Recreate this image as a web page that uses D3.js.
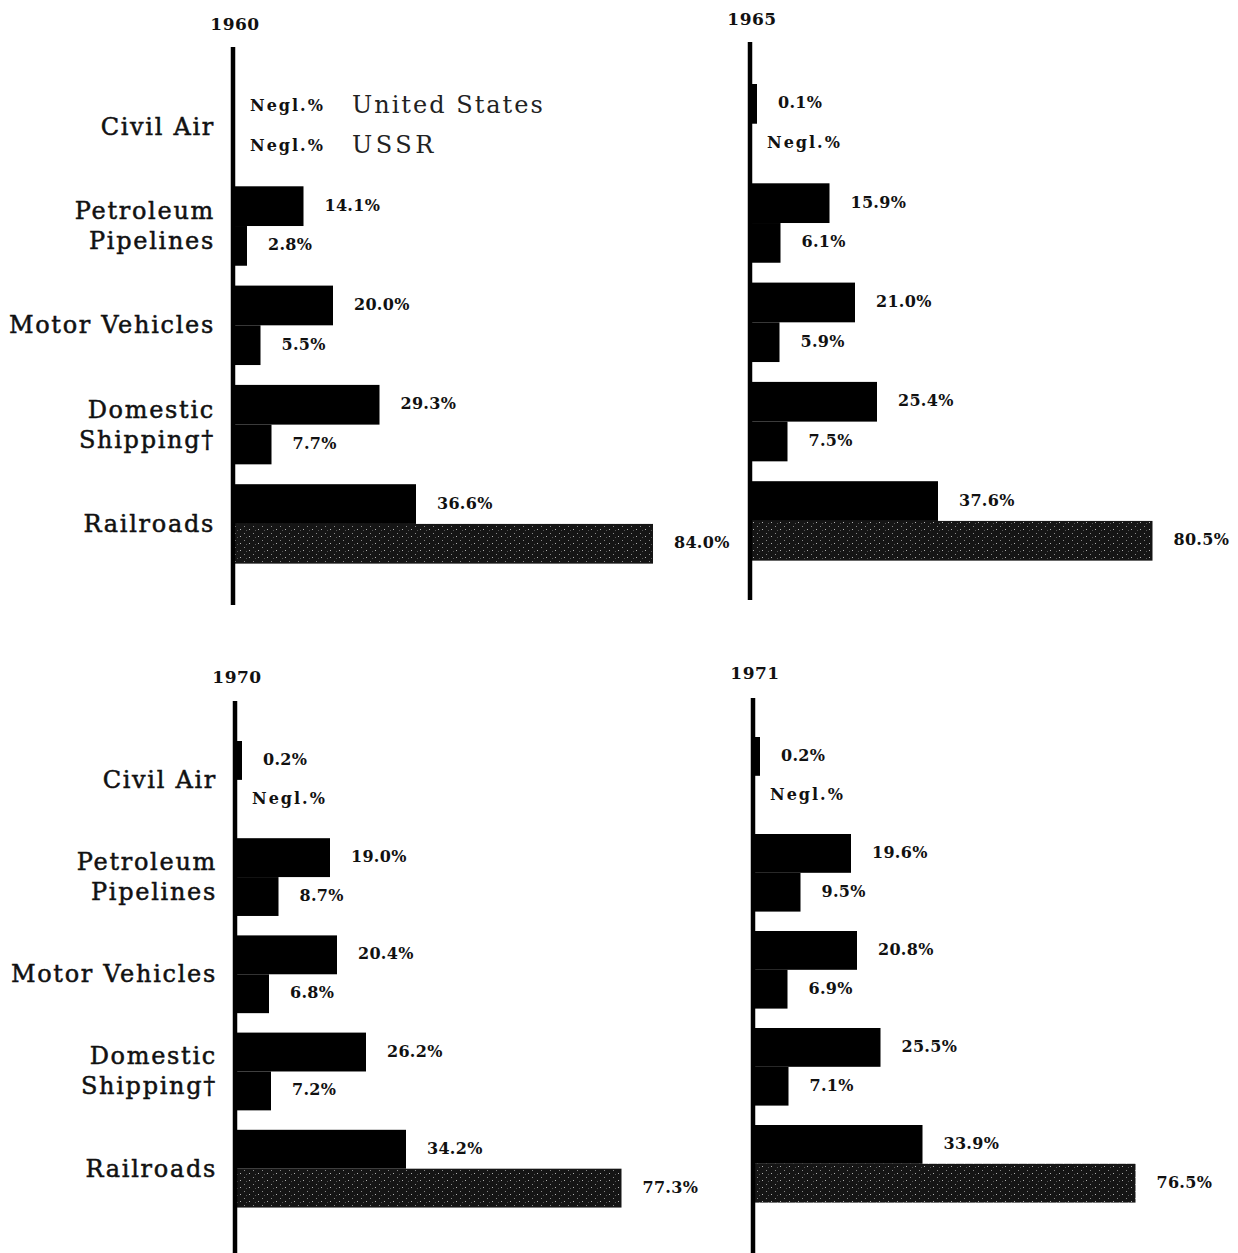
<!DOCTYPE html>
<html>
<head>
<meta charset="utf-8">
<script src="https://cdn.jsdelivr.net/npm/d3@7"></script>
<style>
  html, body { margin: 0; padding: 0; background: #fff; }
  svg { display: block; }
</style>
</head>
<body>
<svg id="chart" width="1238" height="1253"></svg>
<script>
// freight turnover shares, per cent (null = "Negl.")
const years = ["1960", "1965", "1970", "1971"];
const categories = ["Civil Air", "Petroleum\nPipelines", "Motor Vehicles", "Domestic\nShipping†", "Railroads"];
const series = ["United States", "USSR"];

const us1960 = [null, 14.1, 20.0, 29.3, 36.6];
const ussr1960 = [null, 2.8, 5.5, 7.7, 84.0];
const us1965 = [0.1, 15.9, 21.0, 25.4, 37.6];
const ussr1965 = [null, 6.1, 5.9, 7.5, 80.5];
const us1970 = [0.2, 19.0, 20.4, 26.2, 34.2];
const ussr1970 = [null, 8.7, 6.8, 7.2, 77.3];
const us1971 = [0.2, 19.6, 20.8, 25.5, 33.9];
const ussr1971 = [null, 9.5, 6.9, 7.1, 76.5];

const usByYear = [us1960, us1965, us1970, us1971];
const ussrByYear = [ussr1960, ussr1965, ussr1970, ussr1971];

// where each small chart sits on the page
const panels = [
  { ax: 233, top: 47, bottom: 605, y0: 87, step: 99.3, yearY: 30, labels: true, legend: true },
  { ax: 750, top: 42, bottom: 600, y0: 84, step: 99.3, yearY: 25, labels: false, legend: false },
  { ax: 235, top: 701, bottom: 1253, y0: 741, step: 97.2, yearY: 683, labels: true, legend: false },
  { ax: 753, top: 698, bottom: 1253, y0: 737, step: 97, yearY: 679, labels: false, legend: false },
];

const FONT = "'DejaVu Serif', serif";
const svg = d3.select("#chart");

const defs = svg.append("defs");
const pat = defs.append("pattern")
  .attr("id", "speckle")
  .attr("patternUnits", "userSpaceOnUse")
  .attr("width", 9)
  .attr("height", 7);
pat.append("rect").attr("width", 9).attr("height", 7).attr("fill", "#151515");
pat.append("rect").attr("x", 1).attr("y", 1).attr("width", 1).attr("height", 1).attr("fill", "#8a8a8a");
pat.append("rect").attr("x", 6).attr("y", 4).attr("width", 1).attr("height", 1).attr("fill", "#b0b0b0");
pat.append("rect").attr("x", 3).attr("y", 5).attr("width", 1).attr("height", 1).attr("fill", "#555");

const x = d3.scaleLinear().domain([0, 100]).range([0, 500]);
const MIN_W = 7; // tiny shares are printed a little wider than their value

panels.forEach((p, i) => {
  const g = svg.append("g");

  const y = d3.scaleBand()
    .domain(categories)
    .range([p.y0, p.y0 + p.step * 4.8])
    .paddingInner(0.2)
    .paddingOuter(0);

  const sub = d3.scaleBand()
    .domain(series)
    .range([0, y.bandwidth()]);

  const rows = [];
  categories.forEach((c, k) => {
    rows.push({ cat: c, s: series[0], v: usByYear[i][k] });
    rows.push({ cat: c, s: series[1], v: ussrByYear[i][k] });
  });

  const barW = (v) => (v == null ? 0 : Math.max(x(v), MIN_W));

  g.selectAll("rect.bar")
    .data(rows.filter((d) => d.v != null))
    .join("rect")
    .attr("class", "bar")
    .attr("x", p.ax - 2)
    .attr("y", (d) => y(d.cat) + sub(d.s))
    .attr("width", (d) => barW(d.v) + 2)
    .attr("height", sub.bandwidth())
    .attr("fill", (d) => (d.s === "USSR" && d.cat === "Railroads" ? "url(#speckle)" : "#000"));

  g.selectAll("text.val")
    .data(rows)
    .join("text")
    .attr("class", "val")
    .attr("x", (d) => p.ax + barW(d.v) + (d.v == null ? 17 : 21))
    .attr("y", (d) => y(d.cat) + sub(d.s) + sub.bandwidth() / 2 - 1)
    .attr("dominant-baseline", "central")
    .attr("font-family", FONT)
    .attr("font-weight", "bold")
    .attr("font-size", 16)
    .attr("letter-spacing", (d) => (d.v == null ? 2 : 0.3))
    .attr("fill", "#111")
    .text((d) => (d.v == null ? "Negl.%" : d.v.toFixed(1) + "%"));

  // axis line
  g.append("line")
    .attr("x1", p.ax).attr("x2", p.ax)
    .attr("y1", p.top).attr("y2", p.bottom)
    .attr("stroke", "#000")
    .attr("stroke-width", 4.5);

  g.append("text")
    .attr("x", p.ax + 2)
    .attr("y", p.yearY)
    .attr("text-anchor", "middle")
    .attr("font-family", FONT)
    .attr("font-weight", "bold")
    .attr("font-size", 17)
    .attr("letter-spacing", 0.5)
    .attr("fill", "#111")
    .text(years[i]);

  if (p.labels) {
    const lab = g.selectAll("text.cat")
      .data(categories)
      .join("text")
      .attr("class", "cat")
      .attr("text-anchor", "end")
      .attr("font-family", FONT)
      .attr("font-size", 24)
      .attr("letter-spacing", 1.7)
      .attr("fill", "#111")
      .attr("stroke", "#111")
      .attr("stroke-width", 0.5);
    lab.each(function (c) {
      const lines = c.split("\n");
      const mid = y(c) + y.bandwidth() / 2;
      const t = d3.select(this);
      lines.forEach((ln, j) => {
        t.append("tspan")
          .attr("x", p.ax - 18)
          .attr("y", mid + (j - (lines.length - 1) / 2) * 30)
          .attr("dominant-baseline", "central")
          .text(ln);
      });
    });
  }

  if (p.legend) {
    g.selectAll("text.leg")
      .data(series)
      .join("text")
      .attr("class", "leg")
      .attr("x", p.ax + 119)
      .attr("y", (s) => y(categories[0]) + sub(s) + sub.bandwidth() / 2 - 2)
      .attr("dominant-baseline", "central")
      .attr("font-family", FONT)
      .attr("font-size", 24)
      .attr("letter-spacing", (s) => (s === "USSR" ? 3.5 : 2))
      .attr("fill", "#222")
      .text((s) => s);
  }
});
</script>
</body>
</html>
